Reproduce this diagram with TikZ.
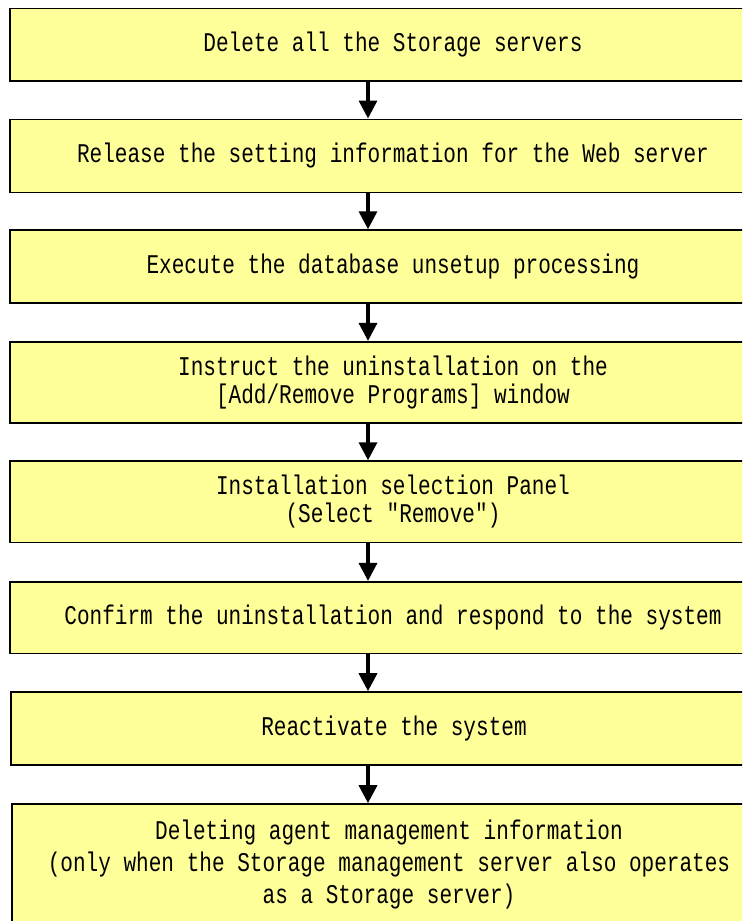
\documentclass[tikz,border=0pt]{standalone}
\usepackage{fontspec}
\usetikzlibrary{arrows.meta}
\newfontfamily\gothicmono[FakeStretch=0.78]{Liberation Mono}
\definecolor{boxyellow}{RGB}{255,255,153}

\begin{document}
\begin{tikzpicture}[x=1pt, y=-1pt,
  stepbox/.style={draw=black, line width=1.6pt, fill=boxyellow, minimum width=766pt, inner sep=0pt, align=center, font=\gothicmono\fontsize{27}{28}\selectfont},
  flow/.style={-{Triangle[length=18pt, width=18pt]}, line width=3.5pt}]
  % ===== page frame =====
  \useasboundingbox (0,0) rectangle (742,921);
  \clip (0,0) rectangle (742,921);

  % ===== steps =====
  \node[stepbox, minimum height=72.4pt] (b1) at (393, 44.5) {Delete all the Storage servers};
  \node[stepbox, minimum height=73pt] (b2) at (393, 155.8) {Release the setting information for the Web server};
  \node[stepbox, minimum height=72.7pt] (b3) at (393, 266.4) {Execute the database unsetup processing};
  \node[stepbox, minimum height=81pt] (b4) at (393, 382.2) {Instruct the uninstallation on the\\{}[Add/Remove Programs] window};
  \node[stepbox, minimum height=81.3pt] (b5) at (393, 501.7) {Installation selection Panel\\(Select "Remove")};
  \node[stepbox, minimum height=71.6pt] (b6) at (393, 617.5) {Confirm the uninstallation and respond to the system};
  \node[stepbox, minimum height=73pt] (b7) at (394, 728.5) {Reactivate the system};
  % last box runs past the page edge
  \node[stepbox, minimum height=122pt, minimum width=754pt, font=\gothicmono\fontsize{27}{32}\selectfont] (b8) at (389, 865) {Deleting agent management information\\(only when the Storage management server also operates\\as a Storage server)};

  % ===== arrows =====
  \draw[flow] ([xshift=-25pt]b1.south) -- ([xshift=-25pt]b2.north);
  \draw[flow] ([xshift=-25pt]b2.south) -- ([xshift=-25pt]b3.north);
  \draw[flow] ([xshift=-25pt]b3.south) -- ([xshift=-25pt]b4.north);
  \draw[flow] ([xshift=-25pt]b4.south) -- ([xshift=-25pt]b5.north);
  \draw[flow] ([xshift=-25pt]b5.south) -- ([xshift=-25pt]b6.north);
  \draw[flow] ([xshift=-25pt]b6.south) -- ([xshift=-26pt]b7.north);
  \draw[flow] ([xshift=-26pt]b7.south) -- ([xshift=-21pt]b8.north);
\end{tikzpicture}
\end{document}
